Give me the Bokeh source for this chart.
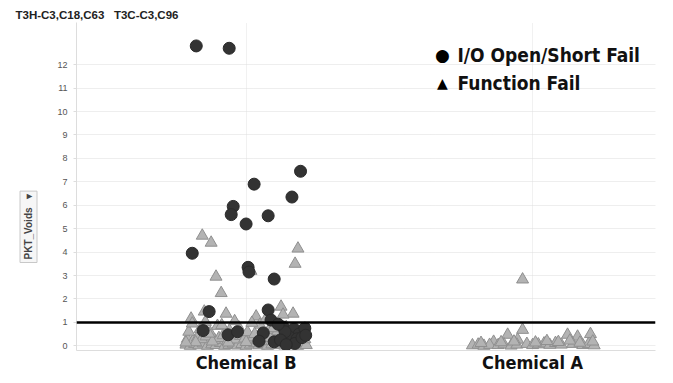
from bokeh.plotting import figure
from bokeh.models import Span, FixedTicker, ColumnDataSource, Range1d, Label, Title
from bokeh.embed import file_html
from bokeh.resources import INLINE

# ---- data ----
categories = ["Chemical B", "Chemical A"]
cat_pos = [0, 1]

# Chemical B - I/O Open/Short Fail (circles): jitter offset, PKT_Voids
b_io_x = [-0.174, -0.059, 0.19, 0.028, 0.16, -0.045, -0.052, 0.077, 0.0, -0.188, 0.007, 0.010, 0.098,
          -0.129, 0.077, 0.087, 0.129, 0.167, 0.199, 0.185, 0.098, 0.150, -0.063, 0.136, 0.178, 0.205,
          0.112, 0.060, -0.150, 0.170, 0.120, 0.195, 0.045, -0.030, 0.140, 0.208]
b_io_y = [12.8, 12.7, 7.45, 6.9, 6.35, 5.95, 5.6, 5.55, 5.2, 3.95, 3.35, 3.15, 2.85,
          1.46, 1.53, 1.10, 0.80, 0.73, 0.60, 0.50, 0.17, 0.38, 0.47, 0.60, 0.30, 0.75,
          0.92, 0.55, 0.65, 0.10, 0.25, 0.35, 0.20, 0.60, 0.05, 0.45]

# Chemical B - Function Fail (triangles)
b_fn_x = [-0.153, -0.122, 0.181, 0.171, -0.105, -0.087, 0.017,
          -0.146, -0.070, 0.122, 0.164, -0.192, 0.035, 0.129,
          -0.210, -0.195, -0.180, -0.165, -0.150, -0.135, -0.120, -0.105, -0.090, -0.075,
          -0.060, -0.045, -0.030, -0.015, 0.000, 0.015, 0.030, 0.045, 0.060, 0.075,
          0.090, 0.105, 0.120, 0.135, 0.150, 0.165, 0.180, 0.195, 0.210,
          -0.205, -0.185, -0.170, -0.155, -0.140, -0.110, -0.095, -0.080, -0.065, -0.050,
          -0.035, -0.020, -0.005, 0.010, 0.025, 0.040, 0.055, 0.070, 0.085, 0.100,
          0.115, 0.130, 0.145, 0.160, 0.175, 0.190, 0.205,
          -0.200, -0.160, -0.125, -0.100, -0.058, -0.025, 0.005, 0.048, 0.080, 0.110,
          0.140, 0.172, 0.200, -0.188, -0.142, -0.085, -0.040, 0.020, 0.066, 0.094,
          -0.176, -0.118, -0.062, 0.000, 0.052, 0.108, 0.156, -0.210, -0.130, 0.030]
b_fn_y = [4.7, 4.4, 4.15, 3.5, 2.95, 2.25, 3.2,
          1.46, 1.37, 1.67, 1.37, 1.16, 1.25, 1.33,
          0.05, 0.00, 0.08, 0.02, 0.10, 0.00, 0.06, 0.03, 0.12, 0.00,
          0.04, 0.09, 0.01, 0.07, 0.00, 0.05, 0.11, 0.02, 0.08, 0.00,
          0.06, 0.03, 0.10, 0.01, 0.07, 0.04, 0.00, 0.09, 0.03,
          0.30, 0.22, 0.35, 0.28, 0.40, 0.25, 0.33, 0.45, 0.20, 0.38,
          0.27, 0.42, 0.31, 0.24, 0.36, 0.29, 0.48, 0.21, 0.34, 0.26,
          0.39, 0.23, 0.44, 0.30, 0.25, 0.37, 0.28,
          0.60, 0.72, 0.55, 0.85, 0.65, 0.78, 0.58, 0.90, 0.68, 0.62,
          0.80, 0.57, 0.70, 0.95, 1.02, 0.88, 1.05, 0.98, 1.08, 0.75,
          0.15, 0.18, 0.14, 0.16, 0.19, 0.13, 0.17, 0.14, 0.52, 0.50]

# Chemical A - Function Fail (triangles)
a_fn_x = [-0.035, -0.087, -0.035, 0.122, 0.157, 0.202, -0.052, -0.136,
          -0.210, -0.190, -0.170, -0.150, -0.120, -0.100, -0.075, -0.055, -0.020, 0.000,
          0.020, 0.040, 0.060, 0.080, 0.100, 0.140, 0.175, 0.195, 0.215,
          -0.180, -0.110, -0.065, 0.010, 0.050, 0.090, 0.130, 0.165, 0.210]
a_fn_y = [2.83, 0.47, 0.68, 0.47, 0.39, 0.50, 0.26, 0.17,
          0.02, 0.05, 0.00, 0.04, 0.03, 0.06, 0.01, 0.05, 0.08, 0.03,
          0.06, 0.10, 0.04, 0.12, 0.05, 0.08, 0.03, 0.07, 0.02,
          0.12, 0.15, 0.18, 0.14, 0.20, 0.16, 0.22, 0.13, 0.18]

y_ticks = list(range(0, 13))
threshold = 1.0
legend_labels = ["I/O Open/Short Fail", "Function Fail"]
legend_symbols = ["\u25cf", "\u25b2"]

BOLD_NARROW = "'Liberation Sans Narrow', 'DejaVu Sans Condensed', sans-serif"

# ---- figure ----
p = figure(width=665, height=375, output_backend="svg", toolbar_location=None,
           x_range=Range1d(-0.592, 1.429), y_range=Range1d(-0.2, 13.8),
           min_border_left=75, min_border_right=10, min_border_top=22, min_border_bottom=10,
           title="T3H-C3,C18,C63\u00a0\u00a0\u00a0T3C-C3,C96")
p.title.text_font = "Liberation Sans"
p.title.text_font_size = "11.5px"
p.title.text_font_style = "bold"
p.title.text_color = "#222222"
p.title.offset = -61
p.title.standoff = 3

p.outline_line_color = None
p.background_fill_color = "white"

# grids
p.ygrid.ticker = FixedTicker(ticks=y_ticks)
p.ygrid.grid_line_color = "#dddddd"
p.ygrid.grid_line_dash = "1 1"
p.xgrid.ticker = FixedTicker(ticks=cat_pos)
p.xgrid.grid_line_color = "#e2e2e2"
p.xgrid.grid_line_dash = "1 1"

# axes
p.yaxis.ticker = FixedTicker(ticks=y_ticks)
p.yaxis.axis_line_color = "#dddddd"
p.yaxis.major_tick_line_color = "#dddddd"
p.yaxis.major_tick_out = 3
p.yaxis.major_tick_in = 0
p.yaxis.minor_tick_line_color = None
p.yaxis.major_label_text_font = "Liberation Sans"
p.yaxis.major_label_text_font_size = "9px"
p.yaxis.major_label_text_color = "#555555"
p.yaxis.major_label_standoff = 6

# y-axis name as a boxed side title
ytitle = Title(text="PKT_Voids\u00a0\u00a0\u00a0\u25be", align="left", offset=88, standoff=35,
               text_font="Liberation Sans", text_font_size="10px", text_font_style="bold",
               text_color="#444444", border_line_color="#c8c8c8", background_fill_color="#f6f6f6",
               padding=3)
p.add_layout(ytitle, "left")

p.xaxis.ticker = FixedTicker(ticks=cat_pos)
p.xaxis.major_label_overrides = {cat_pos[i]: categories[i] for i in range(len(categories))}
p.xaxis.axis_line_color = "#dddddd"
p.xaxis.major_tick_line_color = None
p.xaxis.minor_tick_line_color = None
p.xaxis.major_tick_out = 0
p.xaxis.major_label_standoff = 1
p.xaxis.major_label_text_font = BOLD_NARROW
p.xaxis.major_label_text_font_size = "18px"
p.xaxis.major_label_text_font_style = "bold"
p.xaxis.major_label_text_color = "#111111"

tri_fill = "#b3b3b3"
tri_line = "#8f8f8f"
circ_fill = "#333333"

b_fn = ColumnDataSource(dict(x=[cat_pos[0] + v for v in b_fn_x], y=b_fn_y))
a_fn = ColumnDataSource(dict(x=[cat_pos[1] + v for v in a_fn_x], y=a_fn_y))
b_io = ColumnDataSource(dict(x=[cat_pos[0] + v for v in b_io_x], y=b_io_y))

p.scatter("x", "y", source=b_fn, marker="triangle", size=12, fill_color=tri_fill, line_color=tri_line, line_width=1)
p.scatter("x", "y", source=a_fn, marker="triangle", size=12, fill_color=tri_fill, line_color=tri_line, line_width=1)
p.scatter("x", "y", source=b_io, marker="circle", size=12, fill_color=circ_fill, line_color="#2a2a2a", line_width=1)

p.add_layout(Span(location=threshold, dimension="width", line_color="black", line_width=2.5))

# legend drawn as text (screen units measured from the frame's bottom edge)
leg_rows_y = [296, 268]
for sym, lab, yy, fs in zip(legend_symbols, legend_labels, leg_rows_y, ["17px", "14px"]):
    p.add_layout(Label(x=366, y=yy, x_units="screen", y_units="screen", text=sym,
                       text_align="center", text_baseline="middle",
                       text_font="DejaVu Sans", text_font_size=fs, text_color="black"))
    p.add_layout(Label(x=381, y=yy, x_units="screen", y_units="screen", text=lab,
                       text_align="left", text_baseline="middle",
                       text_font=BOLD_NARROW, text_font_size="19px", text_font_style="bold",
                       text_color="#111111"))

open("out.html", "w").write(file_html(p, INLINE))
